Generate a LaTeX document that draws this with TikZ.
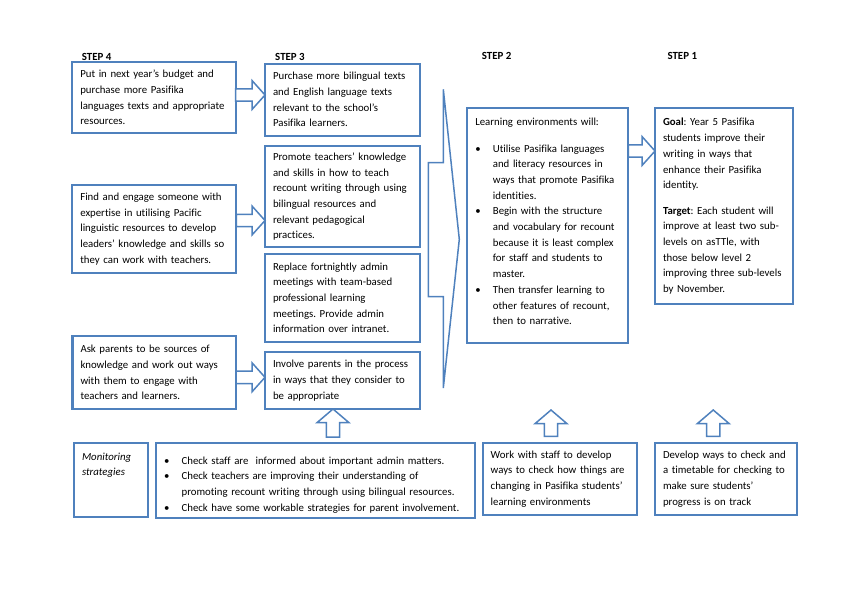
\documentclass[tikz,border=0pt]{standalone}
\usepackage{fontspec}
\setmainfont[Ligatures=NoCommon]{Carlito}
\usetikzlibrary{calc, positioning}
\definecolor{boxblue}{RGB}{79,129,189}
\newcommand{\bul}{\par\hangindent=17.6pt\hangafter=1\noindent\makebox[17.6pt][l]{\textbullet}}
\newcommand{\lowpad}[1]{\par\vspace{#1}\hrule height 0pt}
\frenchspacing

\begin{document}
\begin{tikzpicture} [
	x=1pt, y=-1pt, % page coordinates, y runs downwards
	box/.style={draw=boxblue, line width=2.1pt, anchor=north west, outer sep=0pt, inner xsep=8pt, align=left, font=\fontsize{10.8}{15.7}\selectfont\frenchspacing}, % every text box
	steplabel/.style={anchor=west, inner sep=0pt, font=\fontsize{10.9}{13}\selectfont\bfseries},
	fatright/.style={draw=boxblue, line width=1.5pt, fill=white, to path={let \p1=(\tikztostart), \p2=(\tikztotarget) in
		(\x1,\y1+6.2pt) -- (\x2-13pt,\y1+6.2pt) -- (\x2-13pt,\y1+14.5pt) -- (\x2,\y1) -- (\x2-13pt,\y1-14.5pt) -- (\x2-13pt,\y1-6.2pt) -- (\x1,\y1-6.2pt) -- cycle}}, % block arrow to the right
	fatup/.style={draw=boxblue, line width=1.5pt, fill=white, to path={let \p1=(\tikztostart), \p2=(\tikztotarget) in
		(\x1-6.7pt,\y1) -- (\x1-6.7pt,\y2-13.5pt) -- (\x1-15.8pt,\y2-13.5pt) -- (\x1,\y2) -- (\x1+15.8pt,\y2-13.5pt) -- (\x1+6.7pt,\y2-13.5pt) -- (\x1+6.7pt,\y1) -- cycle}}, % block arrow upwards
	]
	\useasboundingbox (0,0) rectangle (849,600);

	\node[steplabel] (step4) at (81.7,56.7) {STEP 4};
	\node[steplabel] (step3) at (275,56.7) {STEP 3};
	\node[steplabel] (step2) at (481.7,56.2) {STEP 2};
	\node[steplabel] (step1) at (667.3,56.2) {STEP 1};

	% step 4
	\node[box, minimum width=163.4pt, minimum height=70.4pt, text width=147.4pt] (budget) at (72.3,62.3) {Put in next year’s budget and\\purchase more Pasifika\\languages texts and appropriate\\resources.};
	\node[box, minimum width=164pt, minimum height=88pt, text width=148pt] (expert) at (72.3,185) {Find and engage someone with\\expertise in utilising Pacific\\linguistic resources to develop\\leaders’ knowledge and skills so\\they can work with teachers.};
	\node[box, minimum width=163.7pt, minimum height=73.6pt, text width=147.7pt] (parents) at (72.5,335.7) {Ask parents to be sources of\\knowledge and work out ways\\with them to engage with\\teachers and learners.};

	% step 3
	\node[box, minimum width=155.3pt, minimum height=71.8pt, text width=139.3pt] (texts) at (265,63.8) {Purchase more bilingual texts\\and English language texts\\relevant to the school’s\\Pasifika learners.};
	\node[box, minimum width=155.3pt, minimum height=101.3pt, text width=139.3pt, below=10.4pt of texts] (promote) {Promote teachers’ knowledge\\and skills in how to teach\\recount writing through using\\bilingual resources and\\relevant pedagogical\\practices.};
	\node[box, minimum width=155.3pt, minimum height=87.7pt, text width=139.3pt, below=6.7pt of promote] (meetings) {Replace fortnightly admin\\meetings with team-based\\professional learning\\meetings. Provide admin\\information over intranet.};
	\node[box, minimum width=155.3pt, minimum height=56.7pt, text width=139.3pt, below=10.6pt of meetings] (involve) {Involve parents in the process\\in ways that they consider to\\be appropriate};

	% step 2 and step 1
	\node[box, minimum width=161pt, minimum height=235pt, text width=145pt] (environ) at (467.3,108.3) {Learning environments will:\par\vspace{11pt}
		\bul Utilise Pasifika languages\newline and literacy resources in\newline ways that promote Pasifika\newline identities.
		\bul Begin with the structure\newline and vocabulary for recount\newline because it is least complex\newline for staff and students to\newline master.
		\bul Then transfer learning to\newline other features of recount,\newline then to narrative.\lowpad{9pt}};
	\node[box, minimum width=138.3pt, minimum height=196pt, text width=122.3pt, right=26.7pt of environ.north east, anchor=north west] (goal) {\textbf{Goal}: Year 5 Pasifika\\students improve their\\writing in ways that\\enhance their Pasifika\\identity.\par\vspace{9.6pt}
		\textbf{Target}: Each student will\\improve at least two sub-\\levels on asTTle, with\\those below level 2\\improving three sub-levels\\by November.};

	% monitoring row
	\node[box, minimum width=73.7pt, minimum height=73.4pt, text width=57.7pt] (monitor) at (74,443.3) {{\itshape Monitoring\\strategies}\\\mbox{}\\\mbox{}};
	\node[box, minimum width=319pt, minimum height=74.7pt, text width=303pt, right=8.3pt of monitor.north east, anchor=north west] (checks) {\bul Check staff are\ \ informed about important admin matters.
		\bul Check teachers are improving their understanding of\newline promoting recount writing through using bilingual resources.
		\bul Check have some workable strategies for parent involvement.};
	\node[box, minimum width=154.6pt, minimum height=72.3pt, text width=138.6pt] (staffcheck) at (482.7,442.7) {Work with staff to develop\\ways to check how things are\\changing in Pasifika students’\\learning environments};
	\node[box, minimum width=142.3pt, minimum height=72.3pt, text width=126.3pt] (progress) at (655,442.7) {Develop ways to check and\\a timetable for checking to\\make sure students’\\progress is on track};

	% merging chevron from step 3 into step 2
	\draw[boxblue, line width=1.5pt] (443.3,89.3) -- (443.3,162.7) -- (428.3,162.7) -- (428.3,296.7) -- (443.3,296.7) -- (443.3,388) -- (459.3,239.3) -- cycle;

	\coordinate (tipL) at (551,410);
	\coordinate (tipM) at (713.3,410);

	\draw[fatright] ([yshift=2.5pt]budget.east) to (texts.west);
	\draw[fatright] ([yshift=8.5pt]expert.east) to (promote.west);
	\draw[fatright] ([yshift=-4.8pt]parents.east) to (involve.west);
	\draw[fatright] ([yshift=-42.7pt]environ.north east) to (goal.west);
	\draw[fatup] ([xshift=17.5pt,yshift=6.3pt]checks.north) to (involve.south);
	\draw[fatup] ([xshift=-9pt,yshift=6.3pt]staffcheck.north) to (tipL);
	\draw[fatup] ([xshift=-12.9pt,yshift=6.3pt]progress.north) to (tipM);
\end{tikzpicture}
\end{document}
